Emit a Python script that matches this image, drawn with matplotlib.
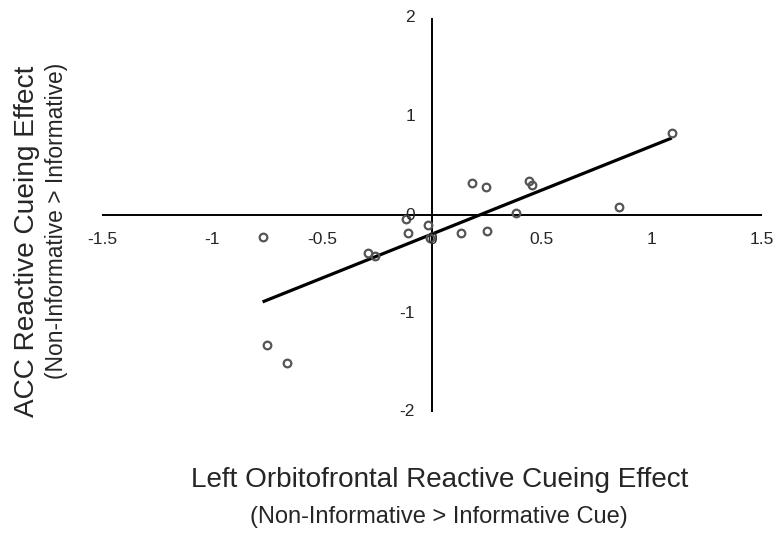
import numpy as np
import matplotlib
matplotlib.use("Agg")
import matplotlib.pyplot as plt

plt.rcParams['font.family'] = ['Liberation Sans', 'DejaVu Sans']

# Data
orbitofrontal = [-0.77, -0.75, -0.66, -0.29, -0.26, -0.12, -0.11, -0.02, -0.01,
                 0.13, 0.18, 0.245, 0.25, 0.38, 0.44, 0.455, 0.85, 1.09]
acc = [-0.22, -1.32, -1.50, -0.39, -0.42, -0.04, -0.18, -0.10, -0.23,
       -0.18, 0.32, 0.28, -0.16, 0.02, 0.35, 0.30, 0.08, 0.83]
x_ticks = [-1.5, -1, -0.5, 0, 0.5, 1, 1.5]
y_ticks = [-2, -1, 0, 1, 2]

W, H = 779, 534
fig = plt.figure(figsize=(W / 100, H / 100), dpi=100)
# axes placed so that x=-1.5..1.5 -> px 102..762, y=-2..2 -> px 412..18
ax = fig.add_axes([102 / W, (H - 412) / H, 660 / W, 394 / H])
ax.set_xlim(-1.5, 1.5)
ax.set_ylim(-2, 2)
ax.axis('off')

ax.axhline(0, color='black', lw=1.4)
ax.axvline(0, color='black', lw=1.4)

tc = '#262626'
for t in x_ticks:
    ax.annotate(f"{t:g}", (t, 0), xytext=(0, -24), textcoords='offset pixels',
                ha='center', va='center', fontsize=12.5, color=tc, annotation_clip=False)
for t in y_ticks:
    ax.annotate(f"{t:g}", (0, t), xytext=(-17, 0), textcoords='offset pixels',
                ha='right', va='center', fontsize=12.5, color=tc, annotation_clip=False)

# trendline
slope, icpt = np.polyfit(orbitofrontal, acc, 1)
xs = np.array([min(orbitofrontal), max(orbitofrontal)])
ax.plot(xs, slope * xs + icpt, color='black', lw=2.3, solid_capstyle='butt')

ax.plot(orbitofrontal, acc, 'o', ms=5.5, mfc='none', mec='#555555', mew=1.6)

fig.text(27 / W, 1 - 241 / H, "ACC Reactive Cueing Effect", rotation=90,
         ha='center', va='center', fontsize=20.2, color=tc)
fig.text(57 / W, 1 - 221 / H, "(Non-Informative > Informative)", rotation=90,
         ha='center', va='center', fontsize=16.4, color=tc)
fig.text(440 / W, 1 - 480 / H, "Left Orbitofrontal Reactive Cueing Effect",
         ha='center', va='center', fontsize=20.1, color=tc)
fig.text(439 / W, 1 - 517 / H, "(Non-Informative > Informative Cue)",
         ha='center', va='center', fontsize=17, color=tc)

fig.savefig("out.png", dpi=100)
